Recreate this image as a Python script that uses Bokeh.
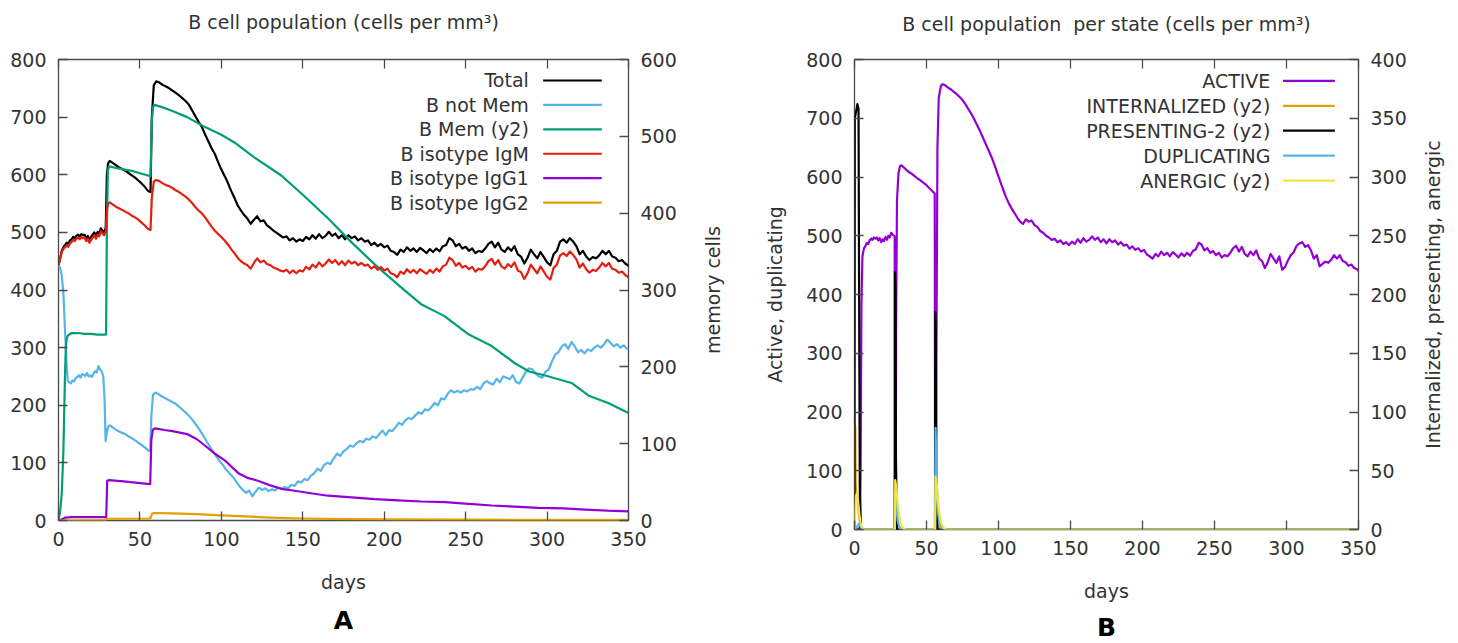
from bokeh.plotting import figure
from bokeh.models import Range1d, LinearAxis, Label, FixedTicker, Title
from bokeh.layouts import row
from bokeh.embed import file_html
from bokeh.resources import INLINE

# ---------------- Panel A: B cell population ----------------
days_total = list(range(0, 30)) + [29.7, 30.5, 31.5, 33, 35, 37, 39, 41, 43, 45, 47, 49,
                                   51, 53, 55, 56.5, 57.3, 58.5] + list(range(60, 351, 2))
total = [443, 455, 468, 474, 478, 482, 480, 486, 488, 492, 490, 494, 496, 493, 497, 495,
         496, 490, 494, 487, 492, 496, 500, 494, 501, 498, 507, 503, 500, 508,
         600, 620, 624, 621, 617, 613, 610, 607, 603, 599, 595, 590, 585, 579, 572, 570, 700, 755,
         762, 760, 756, 753, 750, 746, 742, 738, 733, 728,
         722, 712, 702, 692, 683, 670, 658, 646, 636, 622,
         609, 598, 586, 572, 560, 547, 538, 530, 524, 515,
         522, 528, 519, 521, 512, 508, 503, 499, 495, 491,
         493, 486, 490, 484, 488, 485, 492, 488, 495, 489,
         497, 490, 494, 501, 494, 498, 490, 495, 488, 495,
         490, 493, 486, 490, 484, 486, 478, 482, 476, 480,
         474, 477, 468, 466, 461, 470, 466, 474, 468, 472,
         466, 473, 469, 464, 471, 466, 472, 467, 476, 478,
         490, 486, 476, 480, 472, 475, 468, 472, 464, 468,
         466, 472, 480, 484, 474, 482, 470, 466, 474, 468,
         476, 462, 458, 446, 456, 470, 462, 455, 466, 457,
         448, 443, 462, 468, 484, 488, 482, 490, 484, 476,
         462, 468, 458, 452, 457, 455, 460, 468, 462, 468,
         458, 456, 450, 452, 446, 442]
igm = [443, 454, 466, 471, 474, 477, 475, 481, 483, 487, 485, 489, 491, 488, 492, 490,
       491, 485, 489, 482, 487, 491, 495, 489, 496, 493, 502, 498, 495, 502,
       540, 550, 552, 549, 545, 542, 539, 536, 533, 529, 526, 522, 517, 512, 506, 504, 560, 588,
       591, 589, 585, 582, 580, 577, 573, 570, 566, 562,
       557, 551, 544, 538, 533, 526, 518, 510, 503, 497,
       492, 486, 479, 471, 464, 456, 450, 446, 443, 437,
       447, 455, 448, 451, 445, 443, 439, 437, 434, 432,
       435, 429, 434, 429, 434, 432, 440, 436, 444, 439,
       448, 441, 446, 453, 447, 452, 444, 450, 443, 451,
       446, 449, 443, 447, 442, 444, 437, 441, 435, 440,
       434, 437, 429, 427, 422, 432, 428, 436, 430, 435,
       429, 436, 432, 428, 435, 430, 437, 432, 441, 444,
       456, 452, 442, 447, 439, 442, 436, 440, 432, 437,
       435, 441, 450, 454, 444, 452, 441, 437, 445, 440,
       448, 434, 431, 419, 429, 444, 436, 429, 441, 432,
       423, 418, 438, 444, 460, 464, 459, 467, 461, 453,
       439, 446, 436, 430, 435, 433, 439, 447, 441, 447,
       437, 435, 430, 432, 426, 422]

days_notmem = ([0, 1, 2, 3, 4, 5, 5.7] + [6.5 + i for i in range(22)]
               + [28.3, 28.9, 29.5, 30.5, 31.5] + list(range(33, 56, 2))
               + [56.3, 57, 58, 59.5] + list(range(61, 350, 2)) + [350])
not_mem = [443, 438, 425, 395, 330, 270, 242,
           240, 238, 243, 241, 247, 249, 252, 248, 254, 253, 251,
           256, 250, 252, 249, 255, 259, 257, 268, 262, 259, 250,
           210, 138, 150, 163, 165,
           162, 158, 155, 152, 150, 146, 143, 139, 135, 131, 127, 122,
           120, 180, 218, 222,
           220, 216, 213, 210, 207, 204, 200, 195, 190, 185,
           179, 172, 164, 156, 147, 137, 128, 119, 111, 103,
           96, 88, 82, 76, 68, 60, 54, 48, 52, 42,
           50, 57, 53, 56, 51, 54, 52, 57, 55, 58,
           56, 62, 60, 68, 66, 72, 70, 78, 82, 90,
           86, 96, 100, 98, 108, 116, 112, 120, 124, 130,
           128, 134, 138, 136, 142, 140, 146, 143, 150, 156,
           148, 157, 155, 162, 170, 166, 174, 178, 176, 182,
           188, 185, 193, 191, 197, 204, 200, 212, 210, 220,
           226, 222, 225, 222, 226, 224, 228, 227, 232, 228,
           238, 242, 238, 236, 246, 240, 250, 248, 245, 252,
           240, 238, 248, 258, 264, 262, 255, 250, 248, 258,
           262, 276, 288, 292, 302, 306, 298, 310, 302, 292,
           296, 290, 297, 294, 300, 304, 300, 306, 314, 308,
           302, 306, 300, 304, 298,
           297]

days_mem = [0, 1, 2, 3, 4, 4.5, 5, 5.5, 6.5, 8, 12, 16, 20, 24, 28, 29.2, 29.7, 30.3, 31, 35,
            40, 45, 50, 55, 56.5, 57.3, 58, 59, 65, 70, 79, 90, 100, 108, 120, 136.8, 150,
            165.6, 180, 194.3, 210, 223, 237, 252, 266, 280, 289, 300, 315, 326, 337.5, 350]
mem = [0, 12, 35, 90, 190, 225, 236, 240, 242, 244, 244, 243, 243, 242, 242, 242, 380, 455,
       461, 459, 457, 455, 452, 449, 448, 520, 538, 541, 537, 533, 525, 512, 502, 492, 473,
       449, 424, 393, 362, 333, 304, 281, 266, 242, 227, 205, 194, 188, 179, 162, 153, 140]

days_igg1 = [0, 2, 4, 8, 28, 29.3, 29.9, 31, 40, 50, 56.3, 57, 58, 59.5, 65, 70, 79, 85,
             90.8, 96, 102.3, 106, 111, 116, 122.4, 130, 136.8, 144, 151, 158, 165.5, 180,
             194.3, 208.6, 223, 237.3, 252, 266, 280, 294.7, 310, 323.5, 337, 350]
igg1 = [0, 2, 5, 6, 6, 6, 69, 70, 68, 65, 63, 140, 158, 160, 157, 155, 150, 141, 128, 116,
        104, 94, 81, 74, 69, 61, 55, 52, 49, 46, 43, 40, 37, 35, 33, 32, 29, 26, 24, 22,
        21, 19, 17, 16]

days_igg2 = [0, 28, 29.9, 56.3, 57.5, 59, 70, 85, 100, 115, 130, 150, 175, 200, 250, 300, 350]
igg2 = [0, 0.5, 3, 3.5, 12, 13, 12.5, 11, 9, 7, 5, 3.5, 2.5, 2, 1.5, 1, 1]

# ---------------- Panel B: B cell population per state ----------------
days_active = ([0, 3.8, 4.3, 4.8] + [5.5 + i for i in range(23)]
               + [27.9, 28.2, 28.6, 28.9, 29.5, 30.5, 31.5, 32.5] + list(range(34, 55, 2))
               + [55.7, 56.0, 56.5, 56.9, 57.6, 58.5, 60] + list(range(61, 350, 2)) + [350])
active = [0, 2, 120, 380,
          465, 478, 482, 488, 486, 492, 495, 493, 497, 495,
          497, 492, 496, 489, 494, 491, 498, 493, 500, 497,
          505, 502, 500,
          498, 0, 0, 350, 560, 605, 618, 620,
          617, 612, 608, 605, 601, 597, 594, 590, 586, 581, 576,
          572, 0, 0, 300, 650, 735, 755,
          758, 756, 752, 749, 745, 741, 736, 731, 724, 716,
          708, 699, 689, 679, 668, 657, 646, 635, 622, 608,
          594, 580, 567, 556, 547, 539, 531, 524, 520, 528,
          524, 526, 518, 515, 508, 505, 500, 497, 493, 495,
          489, 492, 486, 489, 484, 490, 486, 494, 488, 496,
          490, 493, 499, 493, 497, 489, 494, 487, 494, 489,
          492, 485, 489, 483, 485, 478, 482, 476, 479, 473,
          476, 468, 465, 461, 469, 465, 473, 467, 471, 465,
          472, 468, 463, 470, 465, 471, 466, 474, 477, 488,
          485, 475, 479, 471, 474, 467, 471, 463, 467, 465,
          471, 479, 483, 473, 481, 469, 465, 473, 467, 475,
          461, 457, 445, 455, 469, 461, 454, 465, 442, 447,
          458, 467, 472, 483, 487, 489, 481, 484, 475, 461,
          467, 448, 452, 456, 454, 459, 467, 461, 467, 457,
          455, 449, 451, 445, 443,
          440]

days_intern = [0, 0.5, 0.8, 1.2, 2, 3, 4, 5, 28.0, 28.2, 29, 30, 31, 56.0, 56.2, 57, 58, 59, 350]
internalized = [0, 88, 40, 30, 28, 14, 4, 0, 0, 52, 20, 5, 0, 0, 55, 22, 5, 0, 0]

days_present = [0, 0.2, 1, 2, 2.8, 3.2, 3.7, 4.5, 27.9, 28.1, 28.5, 28.8, 29.5,
                55.9, 56.1, 56.5, 56.8, 57.5, 350]
presenting = [0, 350, 355, 362, 358, 200, 30, 0, 0, 219, 205, 60, 0, 0, 185, 170, 40, 0, 0]

days_dup = [0, 1.5, 2.5, 3.5, 4.5, 5.5, 28.0, 28.4, 29, 30, 31, 32.5,
            56.0, 56.3, 57, 58, 59, 60.5, 62, 350]
duplicating = [0, 3, 8, 10, 4, 0, 0, 60, 45, 15, 5, 0, 0, 173, 90, 30, 10, 3, 0, 0]

days_anergic = [0, 0.5, 1, 1.7, 2.5, 3.5, 4.5, 6, 28.0, 28.3, 29, 30, 31, 32, 33.5, 35.5,
                56.0, 56.3, 57, 58, 59, 60, 61.5, 63.5, 350]
anergic = [0, 18, 28, 31, 24, 12, 4, 0, 0, 42, 36, 22, 12, 5, 1.5, 0,
           0, 45, 39, 24, 13, 6, 2, 0, 0]

x_ticks = [0, 50, 100, 150, 200, 250, 300, 350]
y_ticks = [0, 100, 200, 300, 400, 500, 600, 700, 800]
y2_ticks_a = [0, 100, 200, 300, 400, 500, 600]
y2_ticks_b = [0, 50, 100, 150, 200, 250, 300, 350, 400]

# ---------------- styling ----------------
FONT = "DejaVu Sans"
TXT = "#333333"
FRAME = "#4a4a4a"
FS = "19px"
LW = 2.2
TOP = 59          # common top border of every frame in the row

BLACK = "#000000"
LBLUE = "#56b4e9"
GREEN = "#009e73"
RED = "#e51e10"
PURPLE = "#9400d3"
ORANGE = "#e69f00"
YELLOW = "#f0e442"


def style_axis(ax, ticks, standoff=12):
    ax.ticker = FixedTicker(ticks=ticks)
    ax.major_tick_in = 9
    ax.major_tick_out = 0
    ax.minor_tick_line_color = None
    ax.axis_line_color = None
    ax.major_tick_line_color = FRAME
    ax.major_tick_line_width = 1.3
    ax.major_label_text_font = FONT
    ax.major_label_text_font_size = FS
    ax.major_label_text_color = TXT
    ax.major_label_standoff = standoff
    ax.axis_label_text_font = FONT
    ax.axis_label_text_font_size = FS
    ax.axis_label_text_font_style = "normal"
    ax.axis_label_text_color = TXT


def make_panel(frame_w, frame_h, left, right, bottom, y2_end, y2_ticks, ylabel,
               ylabel_standoff, title, title_standoff, letter, letter_standoff):
    p = figure(frame_width=frame_w, frame_height=frame_h,
               x_range=Range1d(0, 350), y_range=Range1d(0, 800),
               output_backend="svg", toolbar_location=None,
               min_border_left=left, min_border_right=right,
               min_border_top=TOP, min_border_bottom=bottom)
    p.extra_y_ranges = {"y2": Range1d(0, y2_end)}
    p.xgrid.visible = False
    p.ygrid.visible = False
    p.outline_line_color = FRAME
    p.outline_line_width = 1.3
    p.background_fill_color = "white"
    p.border_fill_color = "white"

    xb = p.xaxis[0]
    style_axis(xb, x_ticks, standoff=11)
    xb.axis_label = "days"
    xb.axis_label_standoff = 22

    yl = p.yaxis[0]
    style_axis(yl, y_ticks, standoff=12)
    if ylabel:
        yl.axis_label = ylabel
        yl.axis_label_standoff = ylabel_standoff

    # mirrored x ticks along the top edge; the panel title sits above them
    xt = LinearAxis()
    style_axis(xt, x_ticks, standoff=0)
    xt.major_label_overrides = {t: "" for t in x_ticks}
    xt.axis_label = title
    xt.axis_label_standoff = title_standoff
    p.add_layout(xt, "above")

    yr = LinearAxis(y_range_name="y2")
    style_axis(yr, y2_ticks, standoff=12)
    p.add_layout(yr, "right")

    p.add_layout(Title(text=letter, align="center", text_font=FONT, text_font_size="25px",
                       text_font_style="bold", text_color="#000000",
                       standoff=letter_standoff), "below")
    return p


def side_label(text, width, center_x, frame_h, bottom):
    # narrow strip carrying the name of the secondary axis, read bottom to top
    left = int(round(center_x + 10.5))
    s = figure(frame_width=1, frame_height=frame_h, x_range=Range1d(0, 1),
               y_range=Range1d(0, 1), output_backend="svg", toolbar_location=None,
               x_axis_location=None, min_border_left=left,
               min_border_right=width - left - 1, min_border_top=TOP,
               min_border_bottom=bottom)
    s.xgrid.visible = False
    s.ygrid.visible = False
    s.outline_line_color = None
    s.background_fill_color = "white"
    s.border_fill_color = "white"
    ax = s.yaxis[0]
    ax.ticker = FixedTicker(ticks=[])
    ax.axis_line_color = None
    ax.major_tick_line_color = None
    ax.minor_tick_line_color = None
    ax.axis_label = text
    ax.axis_label_standoff = 0
    ax.axis_label_text_font = FONT
    ax.axis_label_text_font_size = FS
    ax.axis_label_text_font_style = "normal"
    ax.axis_label_text_color = TXT
    return s


def add_key(p, entries):
    # key block in the upper right: right-aligned names with a sample line after each
    y0, dy = 763.6, 42.4
    tx, lx0, lx1 = 288.8, 297.6, 333.6
    for i, (name, color) in enumerate(entries):
        y = y0 - i * dy
        p.segment(x0=[lx0], y0=[y], x1=[lx1], y1=[y], line_color=color, line_width=LW)
        p.add_layout(Label(x=tx, y=y, text=name, text_align="right", text_baseline="middle",
                           text_font=FONT, text_font_size=FS, text_color=TXT))


# Panel A
pa = make_panel(570, 461, 58, 50, 123, 600, y2_ticks_a, None, 0,
                "B cell population (cells per mm\u00b3)", 27, "A", 16)
pa.line(days_total, total, line_color=BLACK, line_width=LW, line_join="round")
pa.line(days_notmem, not_mem, line_color=LBLUE, line_width=LW, line_join="round")
pa.line(days_mem, mem, line_color=GREEN, line_width=LW, line_join="round", y_range_name="y2")
pa.line(days_total, igm, line_color=RED, line_width=LW, line_join="round")
pa.line(days_igg1, igg1, line_color=PURPLE, line_width=LW, line_join="round")
pa.line(days_igg2, igg2, line_color=ORANGE, line_width=LW, line_join="round")
add_key(pa, [("Total", BLACK), ("B not Mem", LBLUE), ("B Mem (y2)", GREEN),
             ("B isotype IgM", RED), ("B isotype IgG1", PURPLE), ("B isotype IgG2", ORANGE)])
sa = side_label("memory cells", 51, 34, 461, 123)

# Panel B
pb = make_panel(504, 470, 124, 50, 114, 400, y2_ticks_b, "Active, duplicating", 17,
                "B cell population \u00a0per state (cells per mm\u00b3)", 25, "B", 13)
pb.line(days_active, active, line_color=PURPLE, line_width=LW, line_join="round")
pb.line(days_intern, internalized, line_color=ORANGE, line_width=LW, line_join="round",
        y_range_name="y2")
pb.line(days_present, presenting, line_color=BLACK, line_width=LW, line_join="round",
        y_range_name="y2")
pb.line(days_dup, duplicating, line_color=LBLUE, line_width=LW, line_join="round")
pb.line(days_anergic, anergic, line_color=YELLOW, line_width=LW, line_join="round",
        y_range_name="y2")
add_key(pb, [("ACTIVE", PURPLE), ("INTERNALIZED (y2)", ORANGE), ("PRESENTING-2 (y2)", BLACK),
             ("DUPLICATING", LBLUE), ("ANERGIC (y2)", YELLOW)])
sb = side_label("Internalized, presenting, anergic", 51, 23, 470, 114)

layout = row(pa, sa, pb, sb)
open("out.html", "w").write(file_html(layout, INLINE))
